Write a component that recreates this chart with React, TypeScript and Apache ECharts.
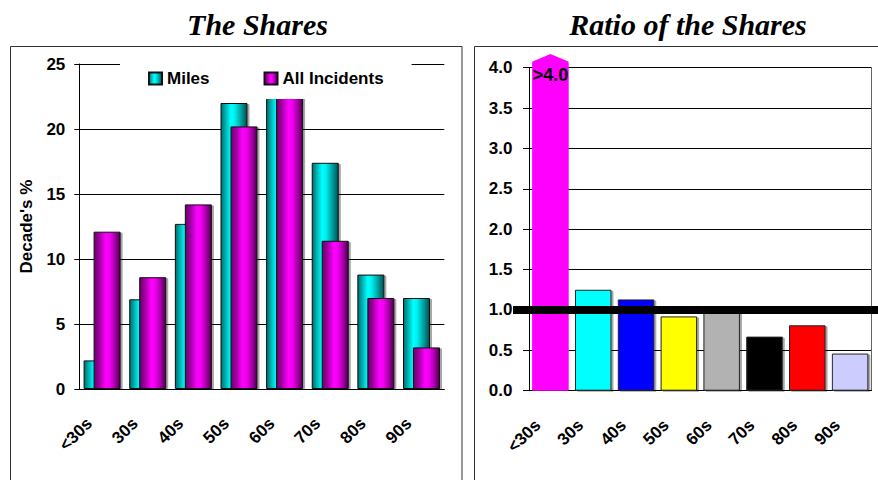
import React, { useEffect, useRef } from 'react';
import * as echarts from 'echarts';

const categories = ['<30s', '30s', '40s', '50s', '60s', '70s', '80s', '90s'];
const milesShare = [2.2, 6.9, 12.7, 22.0, 22.8, 17.4, 8.8, 7.0];
const incidentShare = [12.1, 8.6, 14.2, 20.2, 23.1, 11.4, 7.0, 3.2];
const ratioShown = [4.07, 1.25, 1.13, 0.92, 1.01, 0.67, 0.81, 0.46];
const ratioColors = ['#FF00FF', '#00FFFF', '#0000FF', '#FFFF00', '#B2B2B2', '#000000', '#FF0000', '#CCCCFF'];
const ratioCapLabel = '>4.0';
const referenceRatio = 1.0;
const shareAxis = { min: 0, max: 25, interval: 5 };
const ratioAxis = { min: 0, max: 4, interval: 0.5 };
const seriesNames = ['Miles', 'All Incidents'];
const titles = ['The Shares', 'Ratio of the Shares'];
const shareAxisName = "Decade's %";

const FONT = '"Liberation Sans", Arial, sans-serif';

export default function App() {
  const ref = useRef<HTMLDivElement>(null);
  useEffect(() => {
    const chart = echarts.init(ref.current!, null, { renderer: 'svg' });
    const cyanGrad = new echarts.graphic.LinearGradient(0, 0, 1, 0, [
      { offset: 0, color: '#006c6c' },
      { offset: 0.15, color: '#00a8a8' },
      { offset: 0.38, color: '#00ffff' },
      { offset: 0.52, color: '#00f0f0' },
      { offset: 0.78, color: '#009c9c' },
      { offset: 1, color: '#005050' },
    ]);
    const magGrad = new echarts.graphic.LinearGradient(0, 0, 1, 0, [
      { offset: 0, color: '#6a006a' },
      { offset: 0.2, color: '#a000a0' },
      { offset: 0.45, color: '#ff00ff' },
      { offset: 0.6, color: '#f000f0' },
      { offset: 0.82, color: '#a000a0' },
      { offset: 1, color: '#4a004a' },
    ]);
    const tickLabel = { fontFamily: FONT, fontWeight: 'bold' as const, fontSize: 17, color: '#000' };
    const xLabel = { ...tickLabel, rotate: 45, interval: 0, margin: 19, padding: [0, 18, 0, 0] };
    const barShadow = { shadowColor: 'rgba(0,0,0,0.35)', shadowOffsetX: 2, shadowOffsetY: 1, shadowBlur: 0 };

    const option: any = {
      animation: false,
      backgroundColor: '#fff',
      graphic: [
        { type: 'rect', silent: true, z: -10, shape: { x: 10.5, y: 46.5, width: 451.5, height: 480 }, style: { fill: 'none', stroke: '#333', lineWidth: 1 } },
        { type: 'rect', silent: true, z: -10, shape: { x: 474.5, y: 46.5, width: 420, height: 480 }, style: { fill: 'none', stroke: '#333', lineWidth: 1 } },
        { type: 'text', x: 257.5, y: 24, style: { text: titles[0], fill: '#000', font: 'italic bold 30px "Liberation Serif"', textAlign: 'center', textVerticalAlign: 'middle' } },
        { type: 'text', x: 688, y: 24, style: { text: titles[1], fill: '#000', font: 'italic bold 30px "Liberation Serif"', textAlign: 'center', textVerticalAlign: 'middle' } },
      ],
      legend: {
        data: seriesNames,
        icon: 'rect',
        left: 120,
        top: 58,
        padding: [12, 28, 12, 28],
        itemGap: 54,
        itemWidth: 13,
        itemHeight: 12,
        backgroundColor: '#fff',
        textStyle: { fontFamily: FONT, fontWeight: 'bold', fontSize: 17, color: '#000' },
      },
      grid: [
        { left: 79.3, top: 64, width: 365, height: 325 },
        { left: 529, top: 67.7, width: 342.5, height: 323 },
      ],
      xAxis: [
        {
          type: 'category', gridIndex: 0, data: categories,
          axisLine: { lineStyle: { color: '#000', width: 1 } },
          axisTick: { length: 5, lineStyle: { color: '#000' } },
          axisLabel: xLabel,
        },
        {
          type: 'category', gridIndex: 1, data: categories,
          axisLine: { lineStyle: { color: '#000', width: 1 } },
          axisTick: { length: 5, lineStyle: { color: '#000' } },
          axisLabel: xLabel,
        },
      ],
      yAxis: [
        {
          type: 'value', gridIndex: 0, ...shareAxis,
          name: shareAxisName, nameLocation: 'middle', nameGap: 44,
          nameTextStyle: { fontFamily: FONT, fontWeight: 'bold', fontSize: 17, color: '#000' },
          axisLine: { show: true, lineStyle: { color: '#000' } },
          axisTick: { show: true, length: 5, lineStyle: { color: '#000' } },
          axisLabel: { ...tickLabel, margin: 14 },
          splitLine: { show: true, lineStyle: { color: '#000', width: 1 } },
        },
        {
          type: 'value', gridIndex: 1, ...ratioAxis,
          axisLine: { show: true, lineStyle: { color: '#000' } },
          axisTick: { show: true, length: 6, lineStyle: { color: '#000' } },
          axisLabel: { ...tickLabel, margin: 16.5, formatter: (v: number) => v.toFixed(1) },
          splitLine: { show: true, lineStyle: { color: '#000', width: 1 } },
        },
        {
          type: 'value', gridIndex: 1, position: 'right', ...ratioAxis,
          axisLine: { show: true, lineStyle: { color: '#666' } },
          axisTick: { show: false }, axisLabel: { show: false }, splitLine: { show: false },
        },
      ],
      series: [
        {
          name: seriesNames[0], type: 'bar', xAxisIndex: 0, yAxisIndex: 0, data: milesShare,
          barWidth: 27, barGap: '-63%',
          itemStyle: { color: cyanGrad, borderColor: '#111', borderWidth: 1, ...barShadow },
        },
        {
          name: seriesNames[1], type: 'bar', xAxisIndex: 0, yAxisIndex: 0, data: incidentShare,
          barWidth: 27, barGap: '-63%',
          itemStyle: { color: magGrad, borderColor: '#111', borderWidth: 1, ...barShadow },
        },
        {
          name: 'ratio', type: 'bar', xAxisIndex: 1, yAxisIndex: 1, clip: false,
          barWidth: 36.5,
          data: ratioShown.map((v, i) => ({
            value: v,
            itemStyle: { color: ratioColors[i], borderColor: i === 0 ? ratioColors[i] : '#222', borderWidth: 1, ...(i === 0 ? {} : barShadow) },
            label: i === 0 ? { show: true, position: 'insideTop', distance: 4, formatter: ratioCapLabel, fontFamily: FONT, fontWeight: 'bold', fontSize: 18, color: '#000' } : { show: false },
          })),
        },
        {
          name: 'arrow', type: 'scatter', xAxisIndex: 1, yAxisIndex: 1, clip: false, silent: true,
          symbol: 'triangle', symbolSize: [38, 8], symbolOffset: [0, -4],
          itemStyle: { color: ratioColors[0], opacity: 1 },
          data: ratioShown.map((v, i) => (i === 0 ? v : '-')),
          markLine: {
            silent: true, symbol: 'none',
            label: { show: false },
            lineStyle: { color: '#000', width: 8, type: 'solid' },
            data: [[{ yAxis: referenceRatio, x: 513 }, { yAxis: referenceRatio, x: 880 }]],
          },
        },
      ],
    };
    chart.setOption(option);
    return () => chart.dispose();
  }, []);
  return <div ref={ref} style={{ position: 'absolute', left: 0, top: 0, width: 878, height: 480, background: '#fff' }} />;
}
